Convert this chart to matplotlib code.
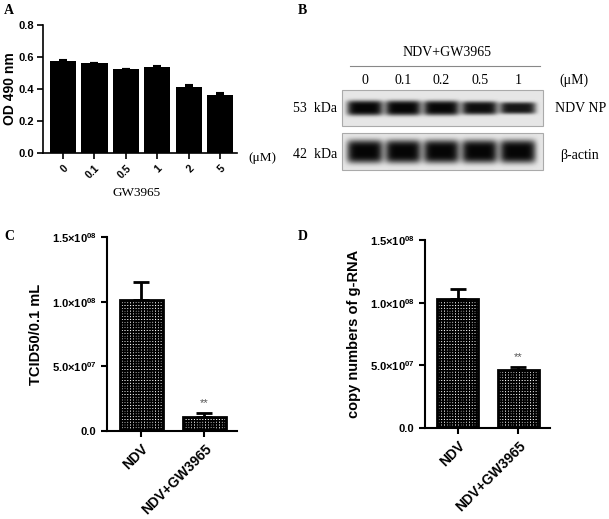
import matplotlib
matplotlib.use('Agg')
import matplotlib.pyplot as plt
import numpy as np

# Panel A: cell viability
a_doses = ['0', '0.1', '0.5', '1', '2', '5']
a_od = [0.575, 0.56, 0.522, 0.537, 0.41, 0.36]
a_err = [0.006, 0.005, 0.003, 0.004, 0.015, 0.015]

# Panel B: western blot
b_doses = ['0', '0.1', '0.2', '0.5', '1']
b_np = [1.0, 1.0, 0.97, 0.85, 0.7]
b_actin = [1.0, 1.0, 1.0, 1.0, 1.0]

# Panel C: virus titre
groups = ['NDV', 'NDV+GW3965']
c_titre = [1.01e8, 0.11e8]
c_err = [0.14e8, 0.03e8]

# Panel D: g-RNA copies
d_copies = [1.03e8, 0.46e8]
d_err = [0.08e8, 0.025e8]

W, H = 609, 519
SANS = ['Liberation Sans', 'DejaVu Sans']
SERIF = ['Liberation Serif', 'DejaVu Serif']
plt.rcParams['font.family'] = SANS
plt.rcParams['mathtext.fontset'] = 'custom'
plt.rcParams['mathtext.rm'] = 'Liberation Sans'
plt.rcParams['mathtext.bf'] = 'Liberation Sans:bold'
plt.rcParams['hatch.linewidth'] = 1.2
plt.rcParams['hatch.color'] = 'black'

fig = plt.figure(figsize=(W / 100, H / 100), dpi=100)


def px_axes(x0, y0, x1, y1):
    return fig.add_axes([x0 / W, 1 - y1 / H, (x1 - x0) / W, (y1 - y0) / H])


def style(ax, lw):
    for s in ['top', 'right']:
        ax.spines[s].set_visible(False)
    for s in ['left', 'bottom']:
        ax.spines[s].set_linewidth(lw)
    ax.tick_params(width=lw, length=4, direction='out')


# ---- A
axA = px_axes(43, 25, 237, 153)
xa = np.arange(len(a_doses))
axA.bar(xa, a_od, width=0.83, color='black', yerr=[[0] * len(a_err), a_err],
        error_kw=dict(ecolor='black', capsize=3, elinewidth=1.2, capthick=1.5))
axA.set_xlim(-0.64, 5.54)
axA.set_ylim(0, 0.8)
axA.set_yticks([0, 0.2, 0.4, 0.6, 0.8])
axA.set_yticklabels(['0.0', '0.2', '0.4', '0.6', '0.8'], fontsize=8, fontweight='bold')
axA.tick_params(axis='y', pad=2.5)
axA.set_xticks(xa)
axA.set_xticklabels(a_doses, rotation=45, ha='right', rotation_mode='anchor',
                    fontsize=7.5, fontweight='bold')
axA.set_ylabel('OD 490 nm', fontsize=10, fontweight='bold')
axA.yaxis.set_label_coords(-0.135, 0.5)
style(axA, 1.2)

# ---- C and D
ticklabs = ['0.0', r'$\mathbf{5.0{\times}10^{07}}$', r'$\mathbf{1.0{\times}10^{08}}$',
            r'$\mathbf{1.5{\times}10^{08}}$']


def titre_panel(box, vals, errs, ylabel):
    ax = px_axes(*box)
    x = np.arange(len(groups))
    ax.bar(x, vals, width=0.68, color='white', edgecolor='black', linewidth=2,
           hatch='++++++', yerr=[[0] * len(errs), errs],
           error_kw=dict(ecolor='black', capsize=6, elinewidth=2, capthick=2))
    ax.set_xlim(-0.54, 1.52)
    ax.set_ylim(0, 1.5e8)
    ax.set_yticks([0, 0.5e8, 1.0e8, 1.5e8])
    ax.set_yticklabels(ticklabs, fontsize=8, fontweight='bold')
    ax.set_xticks(x)
    ax.set_xticklabels(groups, rotation=45, ha='right', rotation_mode='anchor',
                       fontsize=10, fontweight='bold')
    ax.set_ylabel(ylabel, fontsize=10.5, fontweight='bold', labelpad=6)
    ax.text(1, vals[1] + errs[1] + 0.04e8, '**', ha='center', va='bottom',
            fontsize=8, color='#555555')
    style(ax, 1.5)
    return ax

titre_panel((107, 237, 237, 431), c_titre, c_err, 'TCID50/0.1 mL')
titre_panel((425, 240, 550, 428), d_copies, d_err, 'copy numbers of g-RNA')

# ---- overlay for panel letters and blot
ov = fig.add_axes([0, 0, 1, 1])
ov.axis('off')

for letter, x, y in [('A', 4, 10), ('B', 298, 10), ('C', 4, 237), ('D', 298, 237)]:
    ov.text(x, y, letter, family=SERIF, fontweight='bold', fontsize=10, va='center')

ov.text(262, 158, '(μM)', family=SERIF, fontsize=9.5, va='center', ha='center')
ov.text(137, 193, 'GW3965', family=SERIF, fontsize=9.5, va='center', ha='center')

# blot
lane_x = 365 + 38.2 * np.arange(len(b_doses))
box_l, box_r = 342, 543


def blot(y0, y1, levels, band_h):
    xs = np.arange(box_l, box_r)
    ys = np.arange(y0, y1)
    X, Y = np.meshgrid(xs + 0.5, ys + 0.5)
    yc = (y0 + y1) / 2
    img = np.zeros_like(X)
    for cx, lv in zip(lane_x, levels):
        hh = band_h * (0.3 + 0.7 * lv)
        dark = 0.75 + 0.25 * lv
        img += dark * np.exp(-((X - cx) / 18) ** 6) * np.exp(-((Y - yc) / hh) ** 4)
    img = np.clip(img, 0, 1)
    shade = 0.9 - 0.88 * img
    ov.imshow(shade, cmap='gray', vmin=0, vmax=1, extent=(box_l, box_r, y1, y0),
              interpolation='bilinear', aspect='auto', zorder=1)
    ov.add_patch(plt.Rectangle((box_l, y0), box_r - box_l, y1 - y0, fill=False,
                               edgecolor='#aaaaaa', linewidth=0.8, zorder=2))

blot(90, 126, b_np, 7.5)
blot(133, 170, b_actin, 11.5)
ov.set_xlim(0, W)
ov.set_ylim(H, 0)

ov.text(447, 53, 'NDV+GW3965', family=SERIF, fontsize=10, ha='center', va='center')
ov.plot([350, 540], [66, 66], color='#888888', linewidth=0.8)
for x, lab in zip(lane_x, b_doses):
    ov.text(x, 80, lab, family=SERIF, fontsize=10, ha='center', va='center')
ov.text(574, 80, '(μM)', family=SERIF, fontsize=10, ha='center', va='center')
ov.text(337, 108, '53  kDa', family=SERIF, fontsize=10, ha='right', va='center')
ov.text(337, 155, '42  kDa', family=SERIF, fontsize=10, ha='right', va='center')
ov.text(555, 108, 'NDV NP', family=SERIF, fontsize=10, ha='left', va='center')
ov.text(560, 155, 'β-actin', family=SERIF, fontsize=10, ha='left', va='center')

fig.savefig('out.png', dpi=100)
